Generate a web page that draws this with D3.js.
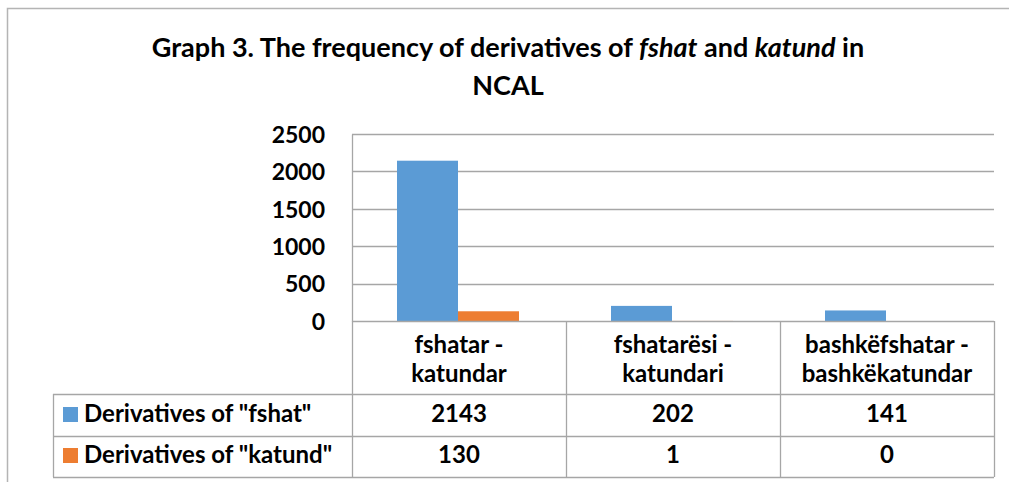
<!DOCTYPE html>
<html>
<head>
<meta charset="utf-8">
<script src="https://cdn.jsdelivr.net/npm/d3@7/dist/d3.min.js"></script>
<style>
  html, body { margin: 0; padding: 0; background: #fff; }
  svg { display: block; }
  text { font-family: Lato, "Open Sans", sans-serif; font-weight: bold; fill: #000; }
</style>
</head>
<body>
<svg id="chart" width="1009" height="482"></svg>
<script>
const categories = [["fshatar -", "katundar"], ["fshatarësi -", "katundari"], ["bashkëfshatar -", "bashkëkatundar"]];
const seriesNames = ['Derivatives of "fshat"', 'Derivatives of "katund"'];
const fshatValues = [2143, 202, 141];
const katundValues = [130, 1, 0];
const yTicks = [0, 500, 1000, 1500, 2000, 2500];
const colors = ["#5B9BD5", "#ED7D31"];

(function () {
const series = [fshatValues, katundValues];
const svg = d3.select("#chart");

// outer frame
svg.append("path").attr("d", "M7.5,482 L7.5,8.5 L1009,8.5")
  .attr("fill", "none").attr("stroke", "#b4b4b4").attr("stroke-width", 1.5);

// title
const title = svg.append("text").attr("text-anchor", "middle").style("font-size", "27px");
const l1 = title.append("tspan").attr("x", 508).attr("y", 57);
l1.append("tspan").text("Graph 3. The frequency of derivatives of ");
l1.append("tspan").style("font-style", "italic").text("fshat");
l1.append("tspan").text(" and ");
l1.append("tspan").style("font-style", "italic").text("katund");
l1.append("tspan").text(" in");
title.append("tspan").attr("x", 508).attr("y", 95).text("NCAL");

const pLeft = 352, pRight = 994, pTop = 134, pBottom = 321;
const x0 = d3.scaleBand().domain(d3.range(categories.length)).range([pLeft, pRight]);
const x1 = d3.scaleBand().domain(d3.range(series.length)).range([45, 167]);
const y = d3.scaleLinear().domain([0, 2500]).range([pBottom, pTop]);

// gridlines
svg.append("g").selectAll("line").data(yTicks.filter(d => d > 0)).join("line")
  .attr("x1", pLeft).attr("x2", pRight)
  .attr("y1", d => Math.round(y(d)) + 0.5).attr("y2", d => Math.round(y(d)) + 0.5)
  .attr("stroke", "#a6a6a6").attr("stroke-width", 1.3);

// y axis
const yAxis = d3.axisLeft(y).tickValues(yTicks).tickFormat(d3.format("d")).tickSize(0).tickPadding(27);
const gy = svg.append("g").attr("transform", `translate(${pLeft},0)`).call(yAxis);
gy.select(".domain").attr("stroke", "#a6a6a6").attr("stroke-width", 1.3);
gy.selectAll("text").style("font-size", "23px").style("font-family", "Lato, sans-serif").attr("font-weight", "bold").attr("dy", "0.36em");

// bars
const groups = svg.append("g").selectAll("g").data(categories.map((c, i) => i)).join("g")
  .attr("transform", i => `translate(${x0(i)},0)`);
groups.selectAll("rect").data(i => series.map((s, j) => ({ j, v: s[i] }))).join("rect")
  .attr("x", d => x1(d.j)).attr("width", x1.bandwidth())
  .attr("y", d => y(d.v)).attr("height", d => y(0) - y(d.v))
  .attr("fill", d => colors[d.j]);

// data table
const rowTops = [pBottom, 394, 436, 477];
const tableLeft = 53;
const g = svg.append("g").attr("stroke", "#a6a6a6").attr("stroke-width", 1.3).attr("fill", "none");
g.append("line").attr("x1", pLeft).attr("x2", pRight).attr("y1", pBottom + 0.5).attr("y2", pBottom + 0.5);
[rowTops[1], rowTops[2], rowTops[3]].forEach(yy => {
  g.append("line").attr("x1", tableLeft).attr("x2", pRight).attr("y1", yy + 0.5).attr("y2", yy + 0.5);
});
g.append("line").attr("x1", tableLeft + 0.5).attr("x2", tableLeft + 0.5).attr("y1", rowTops[1]).attr("y2", rowTops[3]);
d3.range(categories.length + 1).forEach(i => {
  const xx = i < categories.length ? x0(i) : pRight;
  g.append("line").attr("x1", Math.round(xx) + 0.5).attr("x2", Math.round(xx) + 0.5).attr("y1", pBottom).attr("y2", rowTops[3]);
});

// category labels
categories.forEach((c, i) => {
  const cx = x0(i) + x0.bandwidth() / 2;
  const t = svg.append("text").attr("text-anchor", "middle").style("font-size", "24px");
  t.append("tspan").attr("x", cx).attr("y", 353).text(c[0]);
  t.append("tspan").attr("x", cx).attr("y", 382).text(c[1]);
});

// rows
const rowBase = [422, 463];
series.forEach((s, j) => {
  svg.append("rect").attr("x", 63).attr("y", rowBase[j] - 15).attr("width", 15).attr("height", 15).attr("fill", colors[j]);
  svg.append("text").attr("x", 84).attr("y", rowBase[j]).style("font-size", "24px").text(seriesNames[j]);
  s.forEach((v, i) => {
    svg.append("text").attr("x", x0(i) + x0.bandwidth() / 2).attr("y", rowBase[j])
      .attr("text-anchor", "middle").style("font-size", "24px").text(v);
  });
});
})();
</script>
</body>
</html>
